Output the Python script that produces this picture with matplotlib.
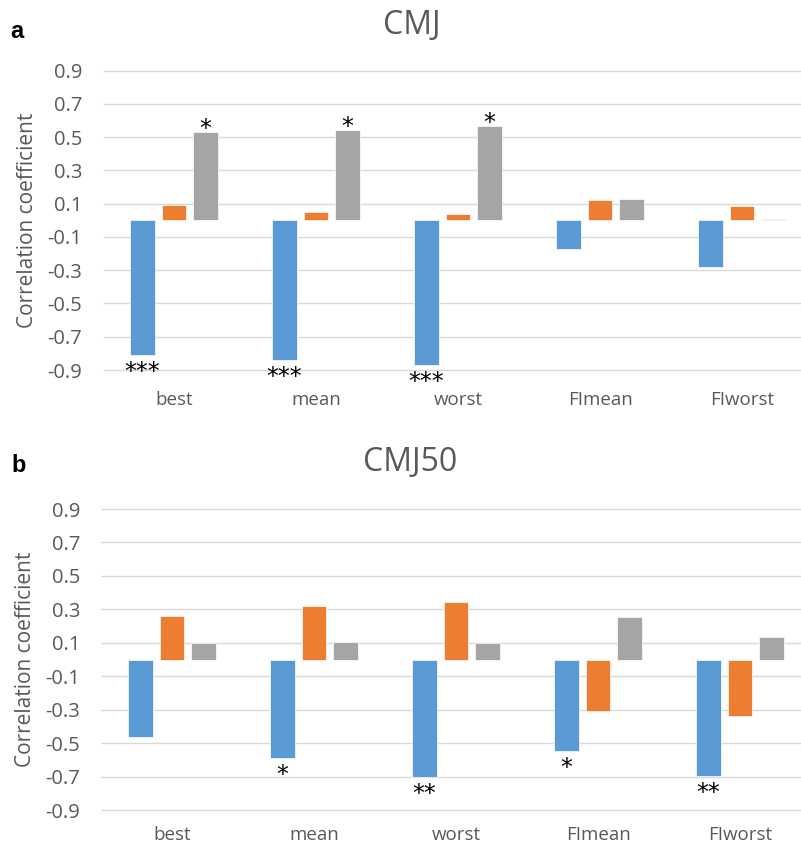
import matplotlib
matplotlib.use("Agg")
import matplotlib.pyplot as plt
import numpy as np

# data
categories = ["best", "mean", "worst", "FImean", "FIworst"]
series_colors = ["#5B9BD5", "#ED7D31", "#A5A5A5"]
yticks = [-0.9, -0.7, -0.5, -0.3, -0.1, 0.1, 0.3, 0.5, 0.7, 0.9]

cmj_blue = [-0.81, -0.84, -0.87, -0.17, -0.28]
cmj_orange = [0.09, 0.047, 0.037, 0.123, 0.087]
cmj_gray = [0.528, 0.54, 0.564, 0.129, 0.005]
cmj_sig_blue = ["***", "***", "***", "", ""]
cmj_sig_gray = ["*", "*", "*", "", ""]

cmj50_blue = [-0.462, -0.589, -0.699, -0.543, -0.693]
cmj50_orange = [0.259, 0.319, 0.347, -0.305, -0.334]
cmj50_gray = [0.098, 0.106, 0.102, 0.253, 0.136]
cmj50_sig_blue = ["", "*", "**", "*", "**"]
cmj50_sig_gray = ["", "", "", "", ""]

W, H = 801, 846
plt.rcParams['font.family'] = ['Open Sans', 'DejaVu Sans']
text_col = "#595959"

fig = plt.figure(figsize=(W / 100, H / 100), dpi=100)


def draw_panel(rect, series, sig_blue, sig_gray, title, letter, title_xy, letter_xy,
               ylab_x, xpad):
    left, top, right, bottom = rect
    ax = fig.add_axes([left / W, 1 - bottom / H, (right - left) / W, (bottom - top) / H])
    x = np.arange(len(categories))
    width = 0.176
    step = 0.223
    ax.hlines(yticks, -0.5, len(categories) - 0.5, color="#D9D9D9", linewidth=1.0,
              zorder=0, clip_on=False)
    for i, vals in enumerate(series):
        ax.bar(x + (i - 1) * step, vals, width, color=series_colors[i],
               edgecolor="white", linewidth=0.5, zorder=3)
    for i in range(len(categories)):
        if sig_blue[i]:
            ax.annotate(sig_blue[i], (x[i] - step, series[0][i]), xytext=(0, -17),
                        textcoords="offset pixels", ha="center", va="center",
                        fontsize=17, color="black", family="DejaVu Sans")
        if sig_gray[i]:
            ax.annotate(sig_gray[i], (x[i] + step, series[2][i]), xytext=(0, 3),
                        textcoords="offset pixels", ha="center", va="center",
                        fontsize=17, color="black", family="DejaVu Sans")
    ax.set_xlim(-0.5, len(categories) - 0.5)
    ax.set_ylim(-0.9, 0.9)
    ax.set_yticks(yticks)
    ax.set_yticklabels([f"{t:.1f}" for t in yticks])
    ax.set_xticks(x)
    ax.set_xticklabels(categories)
    ax.tick_params(axis="both", length=0, colors=text_col)
    ax.tick_params(axis="y", pad=15, labelsize=14.5)
    ax.tick_params(axis="x", pad=xpad, labelsize=13.5)
    for s in ax.spines.values():
        s.set_visible(False)
    ax.set_ylabel("Correlation coefficient", fontsize=15, color=text_col)
    ax.yaxis.set_label_coords((ylab_x - left) / (right - left), 0.5)
    fig.text(title_xy[0] / W, 1 - title_xy[1] / H, title, ha="center", va="center",
             fontsize=23, color=text_col)
    fig.text(letter_xy[0] / W, 1 - letter_xy[1] / H, letter, ha="center", va="center",
             fontsize=17, fontweight="bold", color="black", family="Liberation Sans")
    return ax


draw_panel((103, 70.5, 813, 370), [cmj_blue, cmj_orange, cmj_gray],
           cmj_sig_blue, cmj_sig_gray, "CMJ", "a", (412, 25), (17, 32), 38, 15)
draw_panel((101, 509, 811, 810.3), [cmj50_blue, cmj50_orange, cmj50_gray],
           cmj50_sig_blue, cmj50_sig_gray, "CMJ50", "b", (410, 462), (19, 465), 36, 11)

fig.savefig("out.png", dpi=100)
